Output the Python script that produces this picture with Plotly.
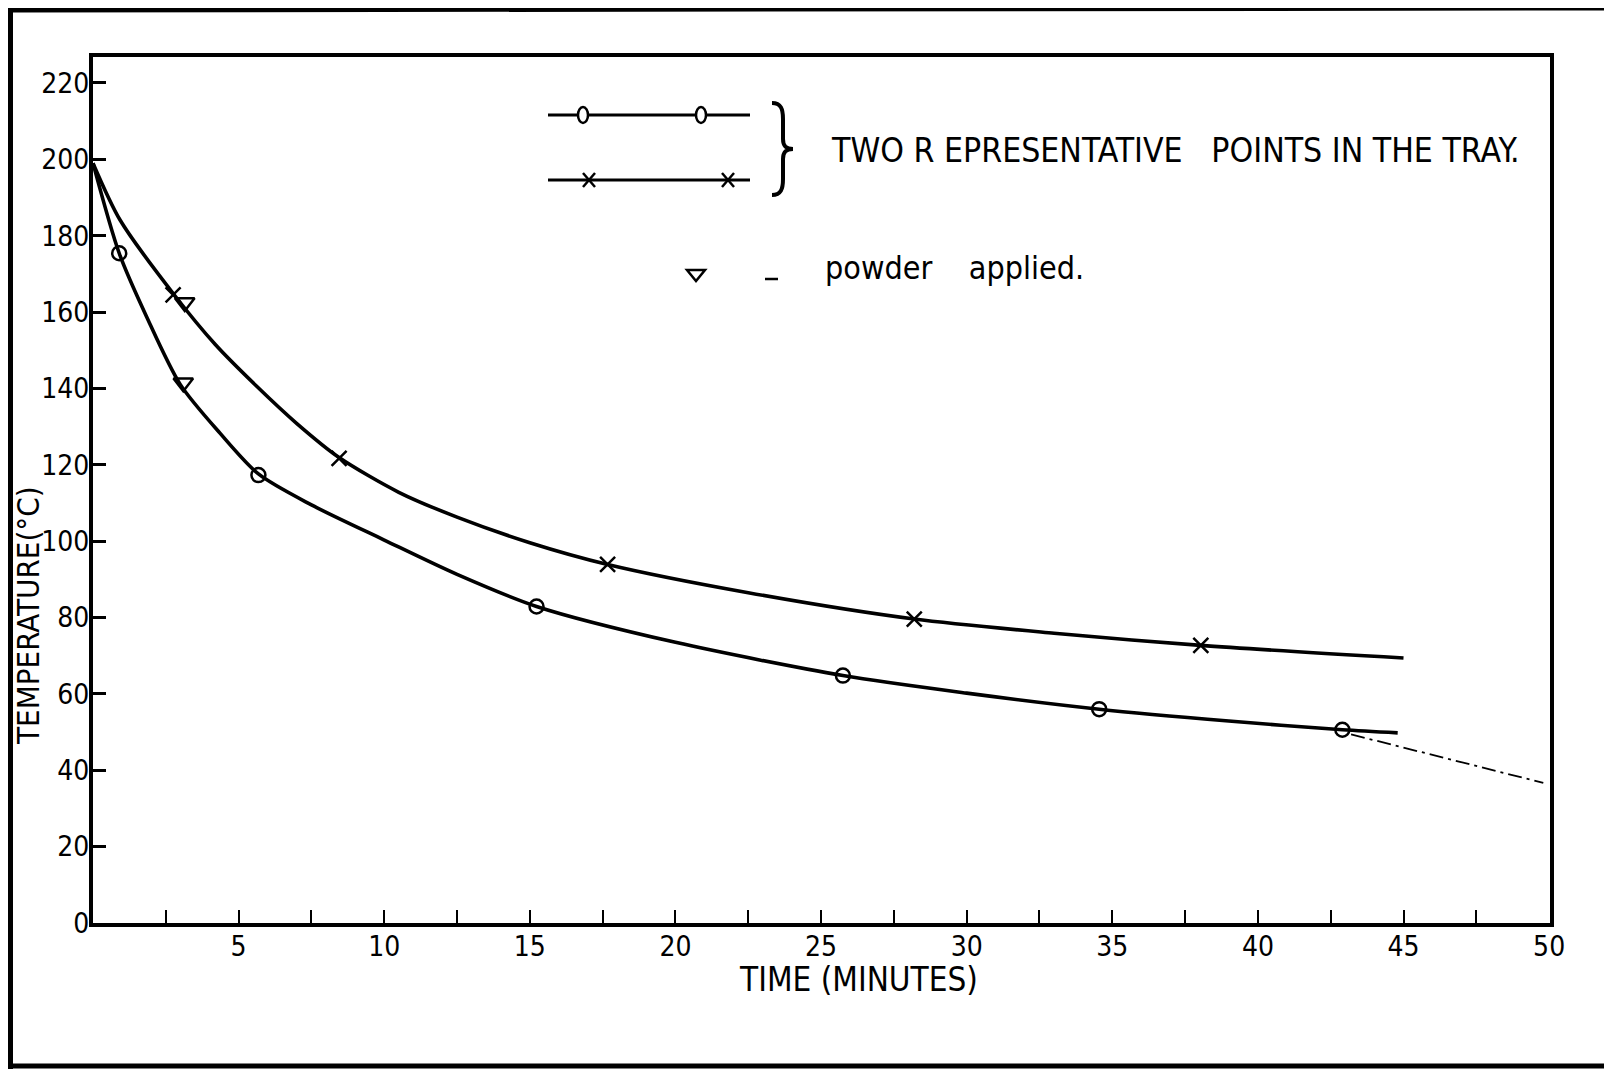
import plotly.graph_objects as go

# ---------------- data ----------------
# lower curve ("o" point in the tray)
curve_o_x = [0, 0.9, 1.84, 3.0, 4.36, 5.68, 7.5, 10, 12.5, 15.23, 20, 25.75, 30, 34.55, 39, 42.9, 44.8]
curve_o_y = [199, 175.4, 158.8, 141, 128.3, 117.6, 109.5, 100.3, 91.3, 82.9, 73.5, 64.8, 60.2, 56.0, 52.9, 50.6, 49.8]
marker_o_x = [0.9, 5.68, 15.23, 25.75, 34.55, 42.9]
marker_o_y = [175.4, 117.3, 82.9, 64.8, 56.0, 50.6]

# upper curve ("x" point in the tray)
curve_x_x = [0, 0.93, 2.8, 4.2, 5.63, 7.0, 8.45, 10.5, 12.5, 15.0, 17.67, 22.5, 28.2, 33, 38.04, 45.0]
curve_x_y = [199, 184.1, 164.4, 151.5, 140.5, 130.8, 121.9, 112.8, 106.3, 99.6, 93.9, 86.5, 79.6, 75.9, 72.7, 69.4]
marker_x_x = [2.75, 8.45, 17.67, 28.2, 38.04]
marker_x_y = [164.5, 121.7, 93.9, 79.6, 72.7]

# powder applied
powder_x = [3.15, 3.1]
powder_y = [162.5, 141.5]

# extrapolation of lower curve
extrap_x = [43.2, 49.8]
extrap_y = [49.4, 36.7]

x_tick_vals = [5, 10, 15, 20, 25, 30, 35, 40, 45, 50]
y_tick_vals = [0, 20, 40, 60, 80, 100, 120, 140, 160, 180, 200, 220]

legend_text = "TWO R EPRESENTATIVE\u00a0\u00a0 POINTS IN THE TRAY."
powder_text = "powder\u00a0\u00a0\u00a0 applied."
x_title = "TIME (MINUTES)"
y_title = "TEMPERATURE(°C)"

# ---------------- layout geometry ----------------
OFF = 8                      # page body margin
W, H = 1612 - OFF, 1069 - OFF
L, R, T, B = 93, 1550, 57, 923   # plot area in page pixels
FONT = "DejaVu Sans Condensed, Liberation Sans Narrow, Arial Narrow, sans-serif"


def px(xpix):
    return (xpix - L) / (R - L)


def py(ypix):
    return (B - ypix) / (B - T)


fig = go.Figure()

fig.add_trace(go.Scatter(x=curve_o_x, y=curve_o_y, mode="lines",
                         line=dict(color="black", width=3.6, shape="spline", smoothing=0.8),
                         hoverinfo="skip", showlegend=False))
fig.add_trace(go.Scatter(x=curve_x_x, y=curve_x_y, mode="lines",
                         line=dict(color="black", width=3.6, shape="spline", smoothing=0.8),
                         hoverinfo="skip", showlegend=False))
fig.add_trace(go.Scatter(x=extrap_x, y=extrap_y, mode="lines",
                         line=dict(color="black", width=1.8, dash="14px,5px,3px,5px"),
                         showlegend=False))
fig.add_trace(go.Scatter(x=marker_o_x, y=marker_o_y, mode="markers",
                         marker=dict(symbol="circle-open", size=14, color="black",
                                     line=dict(width=2.5, color="black")),
                         showlegend=False))
fig.add_trace(go.Scatter(x=marker_x_x, y=marker_x_y, mode="markers",
                         marker=dict(symbol="x-thin", size=15, color="black",
                                     line=dict(width=2.5, color="black")),
                         showlegend=False))
fig.add_trace(go.Scatter(x=powder_x, y=powder_y, mode="markers",
                         marker=dict(symbol="triangle-down-open", size=17, color="black",
                                     line=dict(width=2.5, color="black")),
                         showlegend=False))

shapes = []
# legend sample lines
for yy in (115, 180):
    shapes.append(dict(type="line", xref="paper", yref="paper",
                       x0=px(548), x1=px(750), y0=py(yy), y1=py(yy),
                       line=dict(color="black", width=3)))
# legend circles
for xx in (583, 701):
    shapes.append(dict(type="circle", xref="paper", yref="paper",
                       xsizemode="pixel", ysizemode="pixel",
                       xanchor=px(xx), yanchor=py(115),
                       x0=-5, x1=5, y0=-8, y1=8,
                       line=dict(color="black", width=2.5), fillcolor="white"))
# legend crosses
for xx in (589, 728):
    for s in (1, -1):
        shapes.append(dict(type="line", xref="paper", yref="paper",
                           xsizemode="pixel", ysizemode="pixel",
                           xanchor=px(xx), yanchor=py(180),
                           x0=-6, x1=6, y0=-7 * s, y1=7 * s,
                           line=dict(color="black", width=2.5)))
# brace
shapes.append(dict(type="path", xref="paper", yref="paper",
                   xsizemode="pixel", ysizemode="pixel",
                   xanchor=px(772), yanchor=py(149),
                   path="M 0,46 C 9,46 11,40 11,30 L 11,10 C 11,3 14,0 21,0 "
                        "C 14,0 11,-3 11,-10 L 11,-30 C 11,-40 9,-46 0,-46",
                   line=dict(color="black", width=4)))
# powder triangle
shapes.append(dict(type="path", xref="paper", yref="paper",
                   xsizemode="pixel", ysizemode="pixel",
                   xanchor=px(696), yanchor=py(273),
                   path="M -9,3 L 9,3 L 0,-8 Z",
                   line=dict(color="black", width=2.5), fillcolor="rgba(0,0,0,0)"))
# powder dash
shapes.append(dict(type="line", xref="paper", yref="paper",
                   x0=px(765), x1=px(778), y0=py(279), y1=py(279),
                   line=dict(color="black", width=2.5)))
# page border (scan frame)
shapes.append(dict(type="line", xref="paper", yref="paper",
                   x0=px(10), x1=px(10), y0=py(8), y1=py(1069),
                   line=dict(color="black", width=6)))
shapes.append(dict(type="line", xref="paper", yref="paper",
                   x0=px(8), x1=px(1612), y0=py(10), y1=py(8),
                   line=dict(color="black", width=5)))
shapes.append(dict(type="line", xref="paper", yref="paper",
                   x0=px(8), x1=px(1612), y0=py(1066), y1=py(1066),
                   line=dict(color="black", width=5)))

annotations = [
    dict(text=legend_text, xref="paper", yref="paper", x=px(829), y=py(150),
         xanchor="left", yanchor="middle", showarrow=False,
         font=dict(family=FONT, size=33.5, color="black")),
    dict(text=powder_text, xref="paper", yref="paper", x=px(823), y=py(268),
         xanchor="left", yanchor="middle", showarrow=False,
         font=dict(family=FONT, size=32, color="black")),
    dict(text=x_title, xref="paper", yref="paper", x=px(858), y=py(979),
         xanchor="center", yanchor="middle", showarrow=False,
         font=dict(family=FONT, size=33, color="black")),
    dict(text=y_title, xref="paper", yref="paper", x=px(28), y=py(616),
         xanchor="center", yanchor="middle", showarrow=False, textangle=-90,
         font=dict(family=FONT, size=31, color="black")),
]

fig.update_layout(
    width=W, height=H,
    margin=dict(l=L - OFF, r=W - (R - OFF), t=T - OFF, b=H - (B - OFF), pad=0),
    paper_bgcolor="white", plot_bgcolor="white",
    shapes=shapes, annotations=annotations,
    showlegend=False,
    font=dict(family=FONT, color="black"),
)
fig.update_xaxes(range=[0, 50.03], tickvals=x_tick_vals, ticks="inside", ticklen=13,
                 tickwidth=2, tickcolor="black", ticklabelstandoff=-5,
                 minor=dict(dtick=2.5, tick0=0, ticks="inside", ticklen=13, tickwidth=2,
                            tickcolor="black", showgrid=False),
                 showline=True, linecolor="black", linewidth=4, mirror=True,
                 showgrid=False, zeroline=False,
                 tickfont=dict(family=FONT, size=28, color="black"))
fig.update_yaxes(range=[0, 226.8], tickvals=y_tick_vals, ticks="inside", ticklen=13,
                 tickwidth=2.5, tickcolor="black", ticklabelstandoff=-6,
                 showline=True, linecolor="black", linewidth=4, mirror=True,
                 showgrid=False, zeroline=False,
                 tickfont=dict(family=FONT, size=28, color="black"))

fig.write_html("out.html")
